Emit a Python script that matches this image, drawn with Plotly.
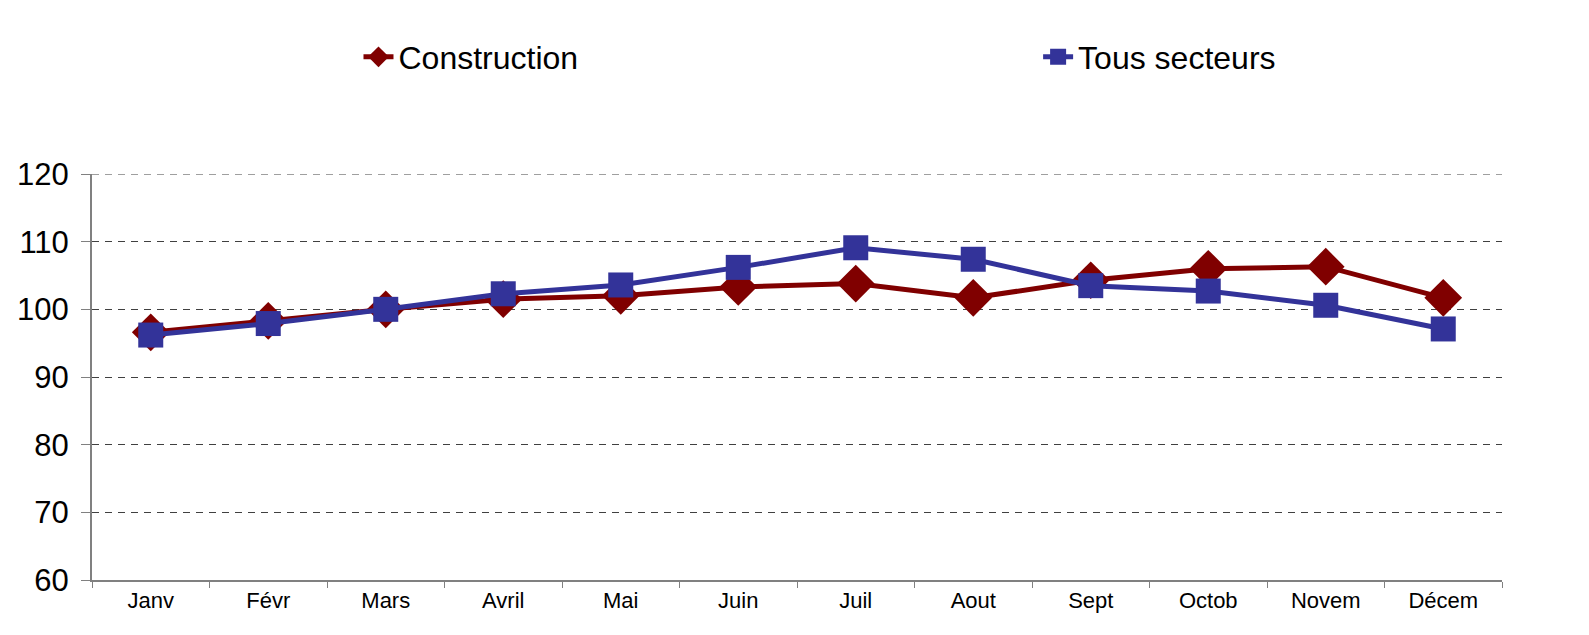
import plotly.graph_objects as go

months = ["Janv", "Févr", "Mars", "Avril", "Mai", "Juin", "Juil", "Aout", "Sept", "Octob", "Novem", "Décem"]
construction = [96.6, 98.3, 100.0, 101.5, 102.0, 103.3, 103.8, 101.7, 104.3, 106.0, 106.3, 101.7]
tous_secteurs = [96.2, 97.9, 100.0, 102.3, 103.6, 106.2, 109.1, 107.4, 103.5, 102.7, 100.6, 97.1]
y_ticks = [60, 70, 80, 90, 100, 110, 120]

fig = go.Figure()
fig.add_trace(go.Scatter(
    x=months, y=construction, name="Construction", mode="lines+markers",
    line=dict(color="#800000", width=5),
    marker=dict(symbol="diamond", size=29, color="#800000"),
    legend="legend",
))
fig.add_trace(go.Scatter(
    x=months, y=tous_secteurs, name="Tous secteurs", mode="lines+markers",
    line=dict(color="#333399", width=5),
    marker=dict(symbol="square", size=25, color="#333399"),
    legend="legend2",
))

# top gridline (Plotly hides the gridline at the range end)
fig.add_shape(type="line", xref="paper", yref="y", x0=0, x1=1,
              y0=max(y_ticks), y1=max(y_ticks),
              line=dict(color="#404040", width=1, dash="7px,6px"), layer="below")

leg_common = dict(orientation="h", yanchor="middle", y=1.288, xanchor="left",
                  font=dict(size=32), bgcolor="rgba(0,0,0,0)", itemwidth=30)

fig.update_layout(
    width=1581, height=627,
    margin=dict(l=84, r=87, t=166, b=55, autoexpand=False),
    paper_bgcolor="white", plot_bgcolor="white",
    font=dict(family="Liberation Sans, Arial, sans-serif", color="black"),
    showlegend=True,
    legend=dict(x=0.189, **leg_common),
    legend2=dict(x=0.671, **leg_common),
    xaxis=dict(
        type="category", range=[-0.5, 11.5],
        showline=True, linecolor="#808080", linewidth=2,
        ticks="outside", tickson="boundaries", ticklen=6, tickcolor="#808080",
        tickfont=dict(size=22), showgrid=False,
    ),
    yaxis=dict(
        range=[60, 120], tickvals=y_ticks,
        showline=True, linecolor="#808080", linewidth=2,
        ticks="outside", ticklen=9, tickcolor="#808080",
        tickfont=dict(size=31), ticklabelstandoff=6,
        showgrid=True, gridcolor="#404040", gridwidth=1, griddash="7px,6px",
        zeroline=False,
    ),
)

fig.write_html("out.html")
